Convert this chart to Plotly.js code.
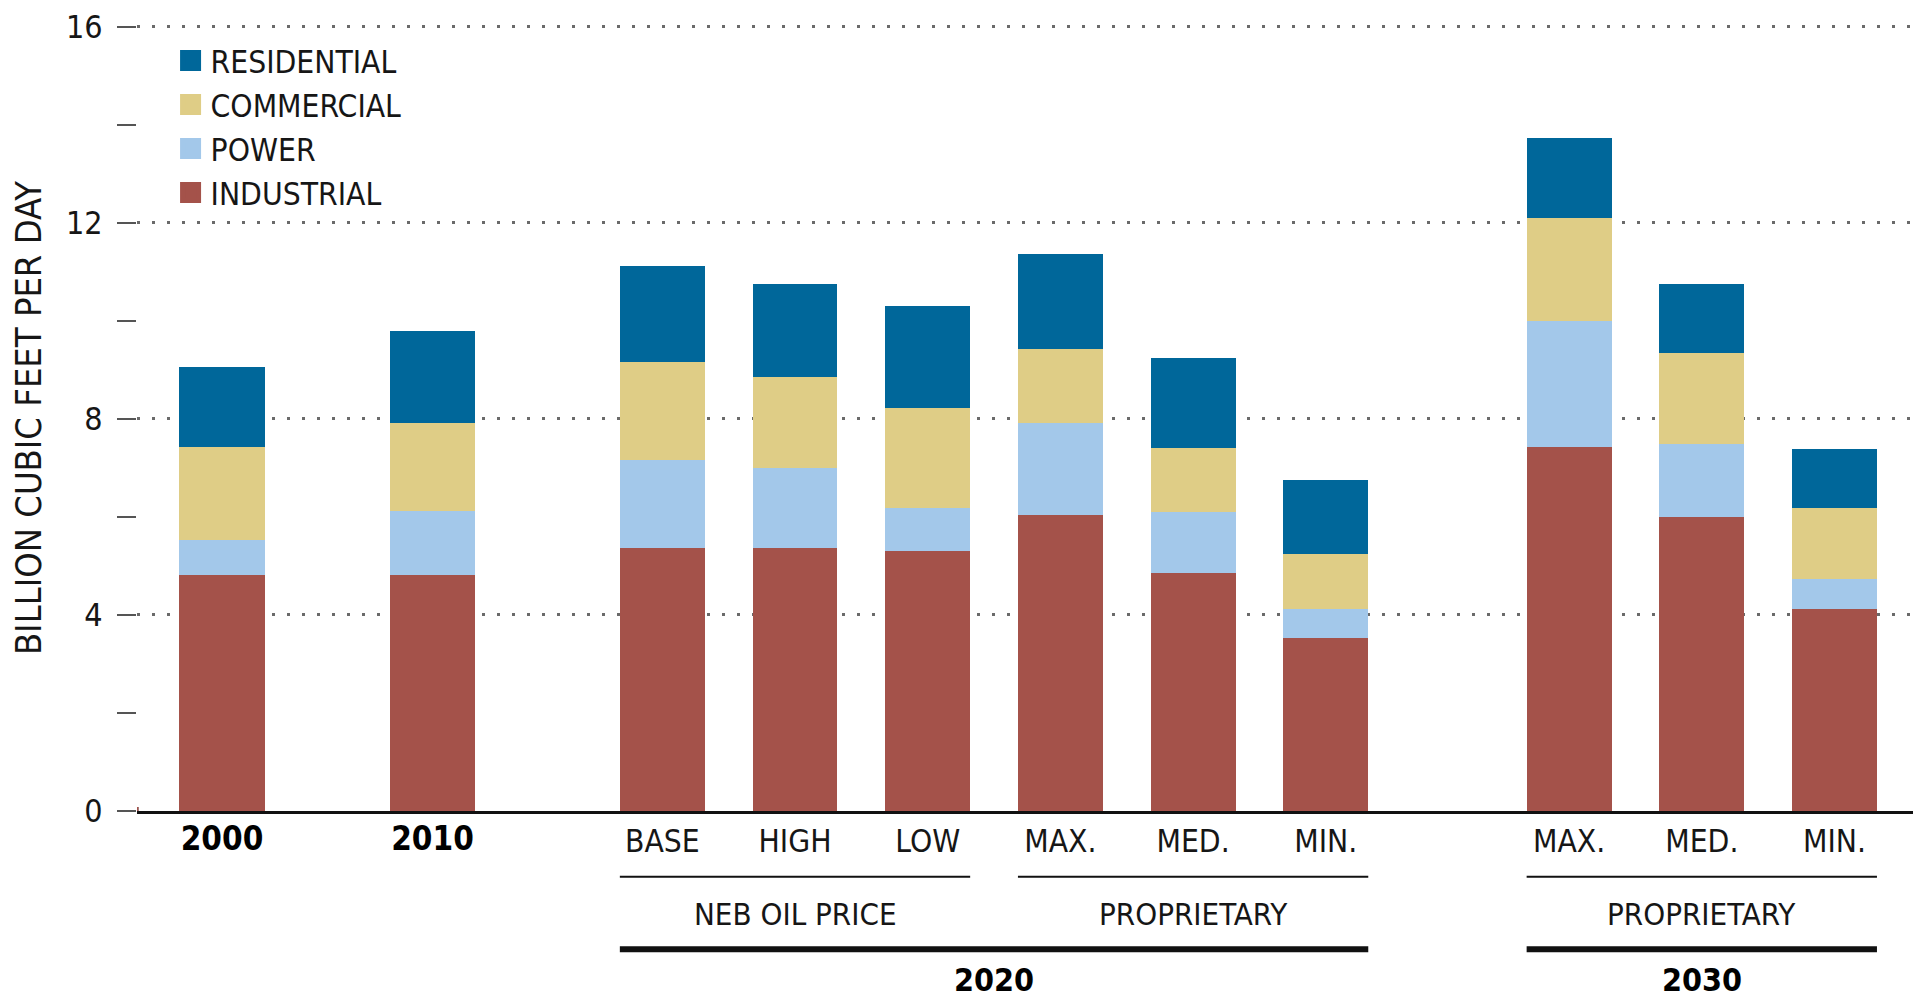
<!DOCTYPE html>
<html>
<head>
<meta charset="utf-8">
<script src="https://cdn.plot.ly/plotly-3.0.1.min.js"></script>
<style>
html, body { margin: 0; padding: 0; background: #ffffff; }
#chart { width: 1913px; height: 998px; }
</style>
</head>
<body>
<div id="chart"></div>
<script>
// ---------------- data ----------------
const historyCategories = ['2000', '2010'];
const categories2020 = ['BASE', 'HIGH', 'LOW', 'MAX.', 'MED.', 'MIN.'];
const categories2030 = ['MAX.', 'MED.', 'MIN.'];
const scenarioGroups2020 = ['NEB OIL PRICE', 'PROPRIETARY'];
const scenarioGroups2030 = ['PROPRIETARY'];
const periodLabels = ['2020', '2030'];
const seriesNames = ['RESIDENTIAL', 'COMMERCIAL', 'POWER', 'INDUSTRIAL'];
const yAxisTitle = 'BILLION CUBIC FEET PER DAY';

// values (billion cubic feet per day), order: 2000, 2010, 2020 BASE..MIN., 2030 MAX..MIN.
const industrial  = [4.81, 4.81, 5.37, 5.37, 5.31, 6.04, 4.85, 3.54, 7.42, 6.01, 4.12];
const power       = [0.73, 1.31, 1.80, 1.62, 0.87, 1.87, 1.26, 0.58, 2.57, 1.48, 0.61];
const commercial  = [1.88, 1.79, 2.00, 1.87, 2.05, 1.51, 1.30, 1.12, 2.11, 1.86, 1.45];
const residential = [1.64, 1.89, 1.95, 1.89, 2.08, 1.95, 1.83, 1.52, 1.64, 1.40, 1.20];

// ---------------- styles ----------------
const seriesColors = {
  RESIDENTIAL: '#00679a',
  COMMERCIAL: '#dfcd86',
  POWER: '#a3c8ea',
  INDUSTRIAL: '#a4524a'
};
const FONT = '"DejaVu Sans Condensed", "DejaVu Sans", sans-serif';
const TEXT = '#161616';

const seriesValues = {
  RESIDENTIAL: residential,
  COMMERCIAL: commercial,
  POWER: power,
  INDUSTRIAL: industrial
};
const stackOrder = ['INDUSTRIAL', 'POWER', 'COMMERCIAL', 'RESIDENTIAL'];

const groupDefs = [
  { cats: historyCategories, xaxis: 'x2', width: 0.404 },
  { cats: categories2020, xaxis: 'x3', width: 0.64 },
  { cats: categories2030, xaxis: 'x4', width: 0.64 }
];

const traces = [];
// empty trace for the full-width grid / baseline subplot
traces.push({ type: 'scatter', x: [], y: [], xaxis: 'x', yaxis: 'y', showlegend: false, hoverinfo: 'skip' });

let start = 0;
groupDefs.forEach(g => {
  const n = g.cats.length;
  stackOrder.forEach(name => {
    traces.push({
      type: 'bar',
      name: name,
      x: g.cats,
      y: seriesValues[name].slice(start, start + n),
      xaxis: g.xaxis,
      yaxis: 'y2',
      width: g.width,
      marker: { color: seriesColors[name], line: { width: 0 } },
      legendgroup: name,
      showlegend: false,
      hovertemplate: '%{x}: %{y:.2f}<extra>' + name + '</extra>'
    });
  });
  start += n;
});

// legend entries (larger swatches), linked to the bar traces by legendgroup
seriesNames.forEach(name => {
  traces.push({
    type: 'scatter',
    mode: 'markers',
    name: name,
    x: [0],
    y: [0],
    xaxis: 'x5',
    yaxis: 'y5',
    legendgroup: name,
    showlegend: true,
    hoverinfo: 'skip',
    marker: { symbol: 'square', size: 16, color: seriesColors[name], line: { width: 5, color: seriesColors[name] } }
  });
});

// ---------------- layout decorations ----------------
const shapes = [];
const annotations = [];
const yLineThin = -0.0836;
const yLineThick = -0.1760;
const yGroupText = -0.1310;
const yPeriodText = -0.2150;

function bracket(xref, i0, i1, w, y, lw) {
  shapes.push({
    type: 'line', xref: xref, yref: 'paper',
    x0: i0 - w / 2, x1: i1 + w / 2, y0: y, y1: y,
    line: { color: '#111', width: lw }
  });
}

// 2020 scenario sub-groups (3 bars each)
scenarioGroups2020.forEach((label, k) => {
  const i0 = k * 3, i1 = k * 3 + 2;
  bracket('x3', i0, i1, 0.64, yLineThin, 2);
  annotations.push({
    xref: 'x3', yref: 'paper', x: categories2020[i0 + 1], y: yGroupText,
    text: label, showarrow: false, xanchor: 'center', yanchor: 'middle',
    font: { family: FONT, size: 31, color: TEXT }
  });
});
scenarioGroups2030.forEach(label => {
  bracket('x4', 0, categories2030.length - 1, 0.64, yLineThin, 2);
  annotations.push({
    xref: 'x4', yref: 'paper', x: categories2030[1], y: yGroupText,
    text: label, showarrow: false, xanchor: 'center', yanchor: 'middle',
    font: { family: FONT, size: 31, color: TEXT }
  });
});
// period brackets
bracket('x3', 0, categories2020.length - 1, 0.64, yLineThick, 6);
bracket('x4', 0, categories2030.length - 1, 0.64, yLineThick, 6);
annotations.push({
  xref: 'x3', yref: 'paper', x: (categories2020.length - 1) / 2, y: yPeriodText,
  text: '<b>' + periodLabels[0] + '</b>', showarrow: false, xanchor: 'center', yanchor: 'middle',
  font: { family: FONT, size: 32, color: '#000' }
});
annotations.push({
  xref: 'x4', yref: 'paper', x: categories2030[1], y: yPeriodText,
  text: '<b>' + periodLabels[1] + '</b>', showarrow: false, xanchor: 'center', yanchor: 'middle',
  font: { family: FONT, size: 32, color: '#000' }
});

const catAxis = {
  type: 'category', anchor: 'y2', showgrid: false, zeroline: false, showline: false,
  ticks: '', fixedrange: true, ticklabelstandoff: 8,
  tickfont: { family: FONT, size: 31.5, color: TEXT }
};

const Y_MAX = 16.04;

const layout = {
  width: 1913,
  height: 998,
  margin: { l: 137, r: 0, t: 25, b: 187, pad: 0 },
  paper_bgcolor: '#ffffff',
  plot_bgcolor: 'rgba(0,0,0,0)',
  font: { family: FONT, size: 32, color: TEXT },
  barmode: 'stack',
  showlegend: true,
  hovermode: 'closest',
  legend: {
    x: 0.0189, y: 0.989, xanchor: 'left', yanchor: 'top',
    bgcolor: 'rgba(0,0,0,0)', borderwidth: 0,
    traceorder: 'normal', tracegroupgap: 0,
    font: { family: FONT, size: 31.5, color: TEXT }
  },
  xaxis: {
    domain: [0, 1], range: [0, 1], anchor: 'y',
    showline: true, linecolor: '#111', linewidth: 3,
    showgrid: false, zeroline: false, showticklabels: false, ticks: '', fixedrange: true
  },
  yaxis: {
    domain: [0, 1], range: [0, Y_MAX], anchor: 'x', fixedrange: true,
    tick0: 0, dtick: 4,
    showgrid: true, gridcolor: '#6a6a6a', gridwidth: 3, griddash: '3px,12px',
    zeroline: false, showline: false,
    ticks: 'outside', ticklen: 19, tickwidth: 2, tickcolor: '#555',
    tickfont: { family: FONT, size: 32, color: TEXT },
    ticklabelstandoff: 8,
    minor: { tick0: 0, dtick: 2, ticks: 'outside', ticklen: 19, tickwidth: 2, tickcolor: '#555', showgrid: false },
    title: { text: yAxisTitle, font: { family: FONT, size: 36, color: TEXT }, standoff: 13 }
  },
  yaxis2: { domain: [0, 1], range: [0, Y_MAX], anchor: 'x2', visible: false, fixedrange: true },
  xaxis2: Object.assign({}, catAxis, {
    domain: [0, 0.22565], range: [-0.4038, 1.5], ticklabelstandoff: 5,
    tickfont: { family: FONT, size: 33, color: '#000', weight: 'bold' }
  }),
  xaxis3: Object.assign({}, catAxis, { domain: [0.25842, 0.70673], range: [-0.5, 5.5] }),
  xaxis4: Object.assign({}, catAxis, { domain: [0.76900, 0.99316], range: [-0.5, 2.5] }),
  xaxis5: { domain: [0, 0.005], range: [1, 2], anchor: 'y5', visible: false, fixedrange: true },
  yaxis5: { domain: [0, 0.005], range: [1, 2], anchor: 'x5', visible: false, fixedrange: true },
  shapes: shapes,
  annotations: annotations
};

Plotly.newPlot('chart', traces, layout, { displayModeBar: false, responsive: false });
</script>
</body>
</html>
